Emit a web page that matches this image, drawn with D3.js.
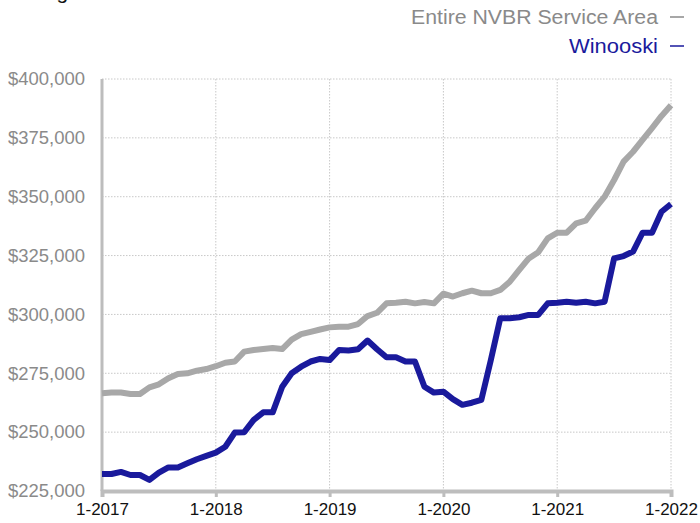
<!DOCTYPE html>
<html><head><meta charset="utf-8">
<script src="https://cdn.jsdelivr.net/npm/d3@7"></script>
<style>body{margin:0;background:#fff}svg{display:block;font-family:"Liberation Sans",Arial,sans-serif}</style>
</head><body><div id="chart"></div>
<script>
const seriesNames = ["Entire NVBR Service Area", "Winooski"];
const seriesColors = ["#a8a8a8", "#1a1a9c"];
const nvbrValues = [266500,266800,266800,266200,266200,269000,270300,272900,274700,275000,276100,276800,
  278000,279500,280000,284200,284900,285300,285700,285300,289300,291600,292600,293600,
  294500,294800,294800,295900,299300,300700,304700,305000,305400,304700,305300,304700,
  308800,307600,309000,310100,309000,309000,310400,313900,318900,323800,326400,332300,
  334700,334700,338700,339800,345100,350000,357100,364900,369100,374100,379100,384300,388800];
const winooskiValues = [232200,232200,233100,231800,231800,229700,232800,235000,235000,236800,238500,239900,
  241300,243800,249800,250000,255200,258400,258400,269300,275000,277800,280000,281100,
  280600,284900,284700,285200,288900,285200,281800,281800,280000,280000,269300,266800,
  267200,264000,261600,262500,263700,280600,298400,298400,298800,299800,299800,304700,
  305000,305400,305000,305400,304700,305400,323800,324800,326700,334700,334700,343600,346900];
const yTicks = [225000,250000,275000,300000,325000,350000,375000,400000];
const xTickLabels = ["1-2017","1-2018","1-2019","1-2020","1-2021","1-2022"];
const titleText = "Average Sale Price";

const W = 700, H = 523;
const m = {left:102, right:29, top:79, bottom:32};
const svg = d3.select("#chart").append("svg").attr("width", W).attr("height", H);

const x = d3.scaleLinear().domain([0, 60]).range([m.left, W - m.right]);
const y = d3.scaleLinear().domain([225000, 400000]).range([H - m.bottom, m.top]);

// title (clipped at the top)
svg.append("text").attr("x", 2).attr("y", -1).attr("font-size", 21).attr("fill", "#111").text(titleText);

// grid
const grid = svg.append("g");
grid.selectAll("line.h").data(yTicks.slice(1)).join("line")
  .attr("x1", m.left).attr("x2", W - m.right)
  .attr("y1", d => y(d)).attr("y2", d => y(d))
  .attr("stroke", "#c8c8c8").attr("stroke-width", 1).attr("stroke-dasharray", "1.5,1.5");
grid.selectAll("line.v").data(xTickLabels.slice(1)).join("line")
  .attr("x1", (d,i) => x((i+1)*12)).attr("x2", (d,i) => x((i+1)*12))
  .attr("y1", m.top).attr("y2", H - m.bottom)
  .attr("stroke", "#c8c8c8").attr("stroke-width", 1).attr("stroke-dasharray", "1.5,1.5");

// y axis
const yAxis = d3.axisLeft(y).tickValues(yTicks).tickSize(0).tickPadding(17)
  .tickFormat(d => "$" + d3.format(",")(d));
const yg = svg.append("g").attr("transform", `translate(${m.left},0)`).call(yAxis);
yg.select(".domain").remove();
yg.selectAll("text").attr("font-size", 18).attr("fill", "#8a8a8a")
  .attr("font-family", "Liberation Sans, Arial, sans-serif")
  .attr("textLength", 77).attr("lengthAdjust", "spacingAndGlyphs");
svg.append("line").attr("x1", m.left).attr("x2", m.left).attr("y1", m.top).attr("y2", H - m.bottom)
  .attr("stroke", "#bdbdbd").attr("stroke-width", 3);

// x axis
const xAxis = d3.axisBottom(x).tickValues(d3.range(0, 61, 12)).tickSize(6).tickPadding(6)
  .tickFormat((d) => xTickLabels[d / 12]);
const xg = svg.append("g").attr("transform", `translate(0,${H - m.bottom})`).call(xAxis);
xg.select(".domain").attr("stroke", "#bdbdbd").attr("stroke-width", 4);
xg.selectAll(".tick line").attr("stroke", "#bdbdbd").attr("stroke-width", 3);
xg.selectAll("text").attr("font-size", 17).attr("fill", "#111").attr("font-family", "Liberation Sans, Arial, sans-serif");

// lines
const line = d3.line().x((d,i) => x(i)).y(d => y(d)).curve(d3.curveLinear);
[nvbrValues, winooskiValues].forEach((vals, k) => {
  svg.append("path").datum(vals).attr("d", line).attr("fill", "none")
    .attr("stroke", seriesColors[k]).attr("stroke-width", 6)
    .attr("stroke-linejoin", "round").attr("stroke-linecap", "butt");
});

// legend
const legendWidths = [247, 89];
const leg = svg.append("g");
seriesNames.forEach((name, k) => {
  const ly = 24 + k * 29;
  leg.append("text").attr("x", 658).attr("y", ly).attr("text-anchor", "end")
    .attr("font-size", 19.5).attr("fill", k === 0 ? "#8a8a8a" : seriesColors[1])
    .attr("textLength", legendWidths[k]).attr("lengthAdjust", "spacingAndGlyphs").text(name);
  leg.append("line").attr("x1", 670).attr("x2", 684).attr("y1", ly - 7).attr("y2", ly - 7)
    .attr("stroke", k === 0 ? "#8a8a8a" : seriesColors[1]).attr("stroke-width", 1.5);
});
</script></body></html>
